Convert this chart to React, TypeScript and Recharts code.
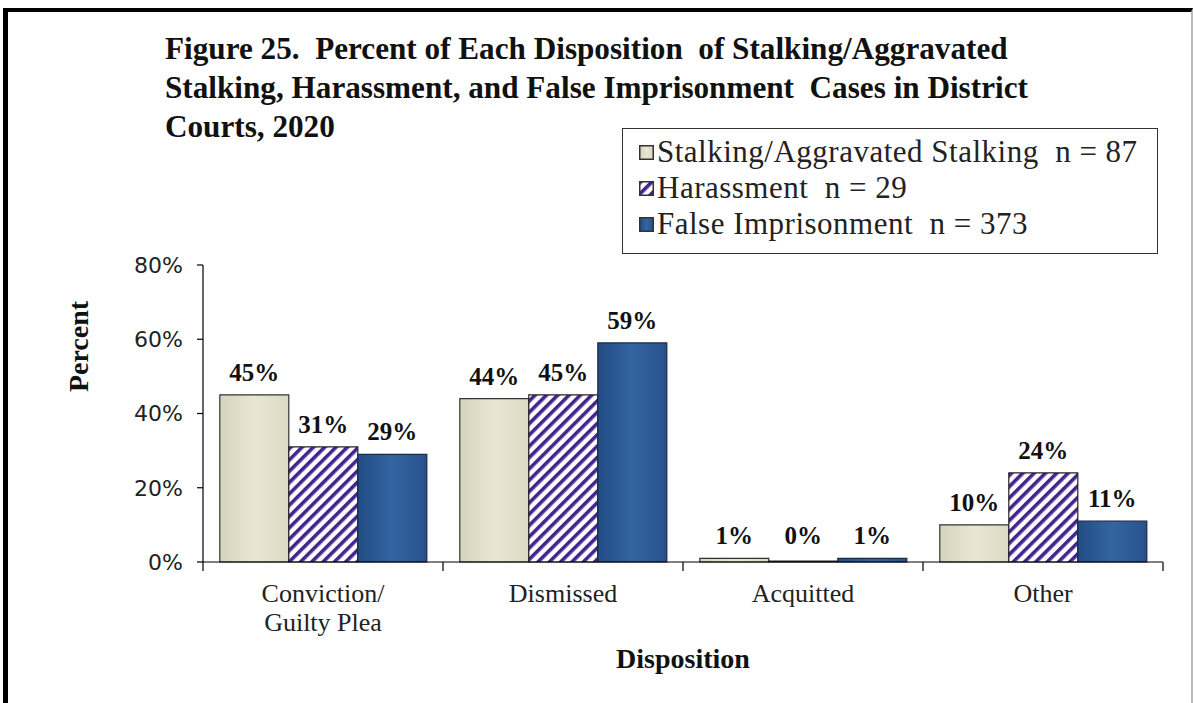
import React from 'react';
import { BarChart, Bar, XAxis, YAxis, Legend, LabelList } from 'recharts';

const categories = ['Conviction/ Guilty Plea', 'Dismissed', 'Acquitted', 'Other'];
const stalking = [45, 44, 1, 10];
const harassment = [31, 45, 0, 24];
const falseImprisonment = [29, 59, 1, 11];
const seriesNames = ['Stalking/Aggravated Stalking', 'Harassment', 'False Imprisonment'];
const seriesN = [87, 29, 373];
const yTicks = [0, 20, 40, 60, 80];

const titleLines = [
  'Figure 25.  Percent of Each Disposition  of Stalking/Aggravated',
  'Stalking, Harassment, and False Imprisonment  Cases in District',
  'Courts, 2020',
];

const data = categories.map((c, i) => ({
  category: c,
  stalking: stalking[i],
  harassment: harassment[i],
  falseImprisonment: falseImprisonment[i],
}));

const serif = '"Liberation Serif", "Times New Roman", serif';
const sans = '"DejaVu Sans", Verdana, sans-serif';

const legendFills = ['url(#beige)', 'url(#hatch)', 'url(#navy)'];

function CategoryTick(props: any) {
  const { x, y, payload, index } = props;
  const half = payload && payload.offset ? payload.offset : 120;
  const parts = String(payload.value).split('/ ');
  const lines = parts.map((s: string, i: number) => (i < parts.length - 1 ? s + '/' : s));
  return (
    <g>
      <line x1={x - half} y1={y} x2={x - half} y2={y + 9} stroke="#000" strokeWidth={1.2} />
      {index === categories.length - 1 && (
        <line x1={x + half} y1={y} x2={x + half} y2={y + 9} stroke="#000" strokeWidth={1.2} />
      )}
      <text x={x} y={y + 40} textAnchor="middle" fontFamily={serif} fontSize={26} fill="#222">
        {lines.map((l: string, i: number) => (
          <tspan key={i} x={x} dy={i === 0 ? 0 : 29}>
            {l}
          </tspan>
        ))}
      </text>
    </g>
  );
}

// y-axis title sits above the middle of the plot, as in the original
function PercentLabel(props: any) {
  const vb = props.viewBox || { x: 20, y: 265, width: 183, height: 297 };
  const x = vb.x + 58;
  const y = vb.y + vb.height / 2 - 67;
  return (
    <text
      x={x}
      y={y}
      transform={`rotate(-90, ${x}, ${y})`}
      dy="0.35em"
      textAnchor="middle"
      fontFamily={serif}
      fontWeight="bold"
      fontSize={28}
      fill="#111"
    >
      Percent
    </text>
  );
}

function ValueLabel(props: any) {
  const { x, y, width, value } = props;
  // zero-height bars get a 1px minimum, so lift their label back to the axis line
  const lift = value === 0 ? 3 : 0;
  return (
    <text
      x={x + width / 2}
      y={y - 14 - lift}
      textAnchor="middle"
      fontFamily={serif}
      fontWeight="bold"
      fontSize={25}
      fill="#111"
    >
      {`${value}%`}
    </text>
  );
}

function LegendBox(props: any) {
  const payload = [...(props.payload || [])].sort(
    (a: any, b: any) => seriesNames.indexOf(a.value) - seriesNames.indexOf(b.value)
  );
  return (
    <div
      style={{
        boxSizing: 'border-box',
        width: 536,
        height: 126,
        border: '1.5px solid #333',
        background: '#fff',
        padding: '5px 0 0 16px',
      }}
    >
      {payload.map((entry: any) => {
        const i = seriesNames.indexOf(entry.value);
        return (
          <div
            key={entry.value}
            style={{ display: 'flex', alignItems: 'center', height: 36, fontFamily: serif, fontSize: 31, letterSpacing: 0.5, color: '#222' }}
          >
            <svg width={15} height={15} style={{ marginRight: 3 }}>
              <rect x={0.75} y={0.75} width={13.5} height={13.5} fill={legendFills[i]} stroke="#333" strokeWidth={1.5} />
            </svg>
            <span style={{ whiteSpace: 'pre' }}>{`${entry.value}  n = ${seriesN[i]}`}</span>
          </div>
        );
      })}
    </div>
  );
}

export default function App() {
  return (
    <div style={{ position: 'relative', width: 1193, height: 703, background: '#fff', overflow: 'hidden' }}>
      <style>{'body{margin:0}'}</style>
      <div
        style={{
          position: 'absolute',
          left: 3,
          top: 8,
          width: 1183,
          height: 720,
          borderTop: '4px solid #000',
          borderLeft: '5px solid #000',
          borderRight: '2px solid #bbb',
        }}
      />
      <div style={{ position: 'absolute', left: 165, top: 29, fontFamily: serif, fontWeight: 'bold', fontSize: 31.2, lineHeight: '39px', color: '#111', whiteSpace: 'pre' }}>
        {titleLines.map((t, i) => (
          <div key={i}>{t}</div>
        ))}
      </div>
      <div style={{ position: 'absolute', left: 0, top: 0 }}>
        <BarChart
          width={1193}
          height={703}
          data={data}
          margin={{ top: 265, right: 30, bottom: 31, left: 20 }}
          barCategoryGap="7%"
          barGap={0}
        >
          <defs>
            <linearGradient id="beige" x1="0" y1="0" x2="1" y2="0">
              <stop offset="0%" stopColor="#d6d3be" />
              <stop offset="50%" stopColor="#e9e6d3" />
              <stop offset="100%" stopColor="#dcd9c4" />
            </linearGradient>
            <linearGradient id="navy" x1="0" y1="0" x2="1" y2="0">
              <stop offset="0%" stopColor="#234c84" />
              <stop offset="50%" stopColor="#3465a2" />
              <stop offset="100%" stopColor="#28528c" />
            </linearGradient>
            <pattern id="hatch" width={8} height={8} patternUnits="userSpaceOnUse" patternTransform="rotate(45)">
              <rect width={8} height={8} fill="#fff" />
              <rect width={3.6} height={8} fill="#43238f" />
            </pattern>
          </defs>
          <XAxis
            dataKey="category"
            height={110}
            tick={<CategoryTick />}
            tickLine={false}
            tickSize={0}
            tickMargin={0}
            axisLine={{ stroke: '#000', strokeWidth: 1.2 }}
            interval={0}
            label={{
              value: 'Disposition',
              position: 'insideBottom',
              offset: 4,
              fontFamily: serif,
              fontWeight: 'bold',
              fontSize: 28,
              fill: '#111',
            }}
          />
          <YAxis
            width={183}
            domain={[0, 80]}
            ticks={yTicks}
            tickFormatter={(v: number) => `${v}%`}
            tick={{ fontFamily: sans, fontSize: 22, fill: '#222' }}
            tickSize={6}
            tickMargin={14}
            axisLine={{ stroke: '#000', strokeWidth: 1.2 }}
            tickLine={{ stroke: '#000', strokeWidth: 1.2 }}
            label={<PercentLabel />}
          />
          <Legend
            layout="vertical"
            align="center"
            verticalAlign="middle"
            content={<LegendBox />}
            wrapperStyle={{ position: 'absolute', left: 622, top: 128, width: 536, height: 126 }}
          />
          <Bar dataKey="stalking" name={seriesNames[0]} fill="url(#beige)" stroke="#333" strokeWidth={1.2} isAnimationActive={false}>
            <LabelList dataKey="stalking" content={<ValueLabel />} />
          </Bar>
          <Bar dataKey="harassment" name={seriesNames[1]} fill="url(#hatch)" stroke="#222" strokeWidth={1.2} minPointSize={1} isAnimationActive={false}>
            <LabelList dataKey="harassment" content={<ValueLabel />} />
          </Bar>
          <Bar dataKey="falseImprisonment" name={seriesNames[2]} fill="url(#navy)" stroke="#1a2a44" strokeWidth={1.2} isAnimationActive={false}>
            <LabelList dataKey="falseImprisonment" content={<ValueLabel />} />
          </Bar>
        </BarChart>
      </div>
    </div>
  );
}
